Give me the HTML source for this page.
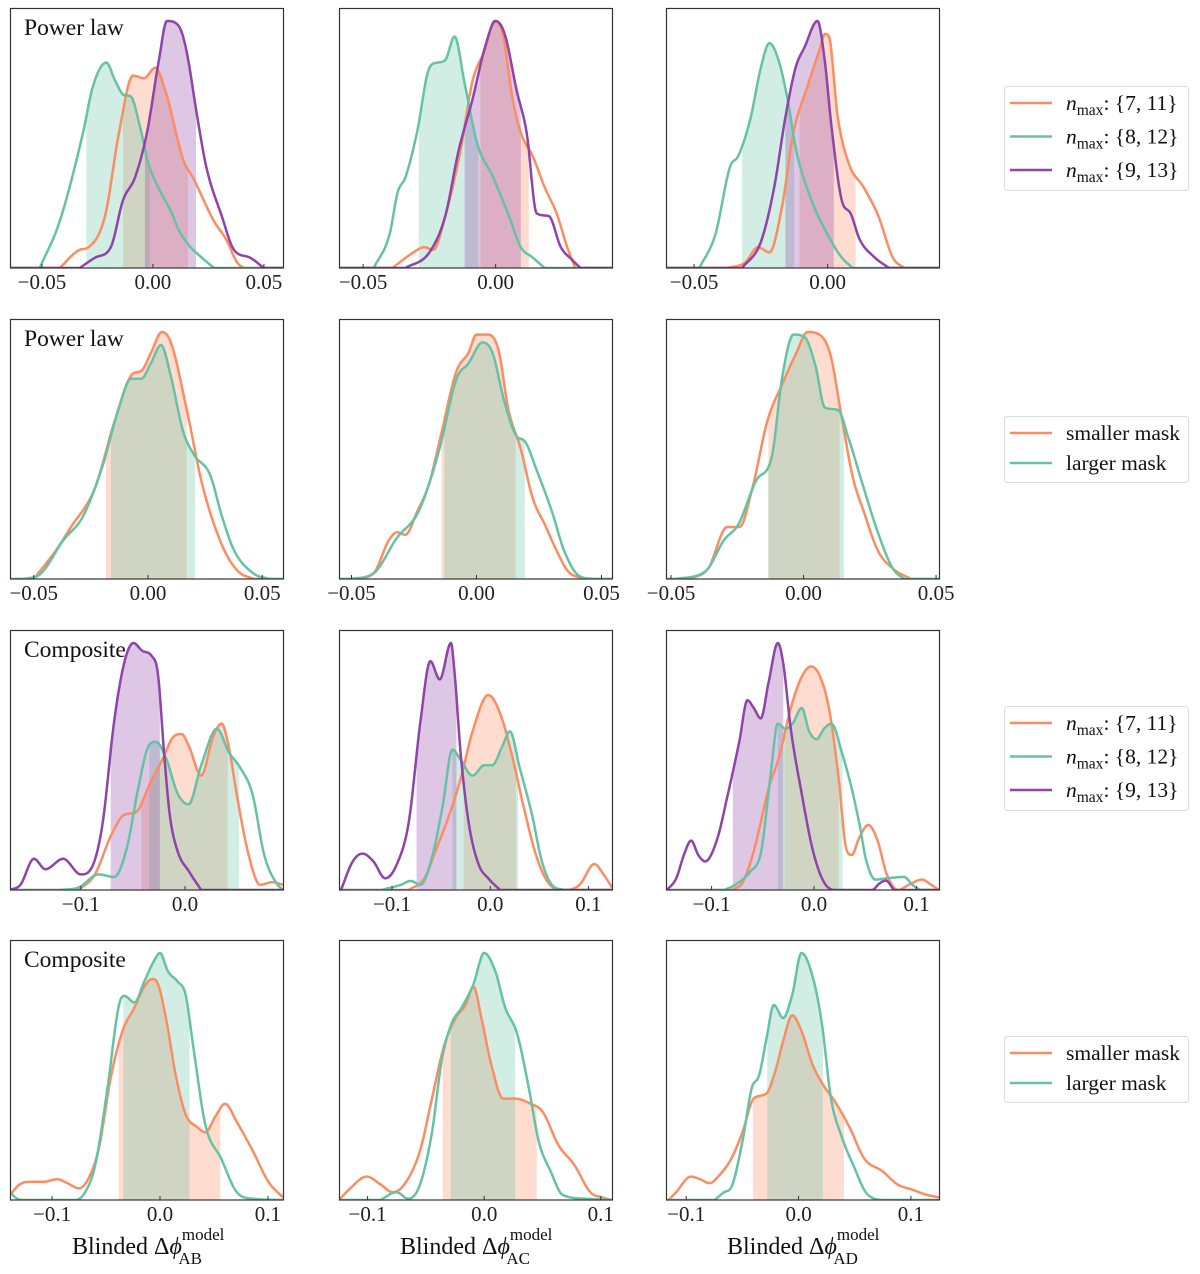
<!DOCTYPE html>
<html><head><meta charset="utf-8">
<style>
html,body{margin:0;padding:0;background:#fff;}
svg{display:block;font-family:"Liberation Serif","DejaVu Serif",serif;}
</style></head>
<body>
<svg id="fig" width="1200" height="1274" viewBox="0 0 1200 1274" xmlns="http://www.w3.org/2000/svg"></svg>
<script>
// ---------- data ----------
const tickSmall = [-0.05, 0.0, 0.05];
const tickSmallLabels = ["\u22120.05", "0.00", "0.05"];
const tickLarge = [-0.1, 0.0, 0.1];
const tickLargeLabels = ["\u22120.1", "0.0", "0.1"];

// Row 1 (Power law, n_max)
const p11Orange = [[-0.042,0],[-0.033,0.07],[-0.029,0.08],[-0.0216,0.20],[-0.0153,0.52],[-0.009,0.74],[-0.004,0.73],[0.001,0.77],[0.006,0.67],[0.0135,0.42],[0.0185,0.34],[0.0275,0.18],[0.033,0.11],[0.038,0.02],[0.041,0]];
const p11Green = [[-0.051,0],[-0.042,0.18],[-0.0315,0.52],[-0.027,0.70],[-0.021,0.79],[-0.017,0.72],[-0.013,0.665],[-0.010,0.66],[-0.006,0.55],[-0.002,0.40],[0.003,0.30],[0.008,0.22],[0.012,0.14],[0.017,0.08],[0.022,0.04],[0.0275,0]];
const p11Purple = [[-0.033,0],[-0.026,0.04],[-0.019,0.08],[-0.0135,0.26],[-0.008,0.35],[-0.0027,0.52],[0.0027,0.80],[0.0063,0.95],[0.0117,0.93],[0.015,0.84],[0.020,0.58],[0.024,0.39],[0.031,0.20],[0.0365,0.07],[0.0437,0.04],[0.05,0]];
const p11Bands = {orange:[-0.0135,0.0158], green:[-0.030,-0.0014], purple:[-0.0036,0.0194]};

const p12Orange = [[-0.039,0],[-0.031,0.06],[-0.027,0.08],[-0.0235,0.07],[-0.019,0.20],[-0.0133,0.45],[-0.0087,0.72],[-0.004,0.84],[-0.0004,0.95],[0.0027,0.90],[0.0064,0.65],[0.0095,0.52],[0.014,0.43],[0.0185,0.31],[0.023,0.21],[0.027,0.08],[0.030,0]];
const p12Green = [[-0.046,0],[-0.040,0.13],[-0.037,0.29],[-0.034,0.35],[-0.0297,0.52],[-0.025,0.77],[-0.022,0.79],[-0.019,0.80],[-0.0155,0.89],[-0.0117,0.71],[-0.007,0.48],[-0.001,0.35],[0.005,0.20],[0.0095,0.08],[0.014,0.04],[0.0185,0]];
const p12Purple = [[-0.034,0],[-0.025,0.06],[-0.019,0.20],[-0.014,0.45],[-0.0087,0.65],[-0.004,0.85],[0.0,0.95],[0.0034,0.90],[0.008,0.68],[0.0117,0.52],[0.0155,0.21],[0.020,0.20],[0.0246,0.08],[0.029,0.03],[0.032,0]];
const p12Bands = {orange:[-0.0057,0.0125], green:[-0.029,-0.0065], purple:[-0.0117,0.0095]};

const p13Orange = [[-0.0376,0],[-0.031,0.02],[-0.026,0.08],[-0.0218,0.06],[-0.017,0.24],[-0.0128,0.52],[-0.0075,0.70],[-0.003,0.84],[-0.001,0.90],[0.0005,0.89],[0.0038,0.58],[0.008,0.40],[0.0135,0.31],[0.019,0.20],[0.0244,0.04],[0.0286,0]];
const p13Green = [[-0.048,0],[-0.042,0.13],[-0.0365,0.39],[-0.0335,0.43],[-0.029,0.57],[-0.025,0.77],[-0.0218,0.865],[-0.0184,0.80],[-0.015,0.65],[-0.0117,0.45],[-0.006,0.26],[0.001,0.11],[0.0053,0.04],[0.0094,0]];
const p13Purple = [[-0.032,0],[-0.025,0.10],[-0.020,0.31],[-0.0158,0.58],[-0.012,0.77],[-0.0086,0.85],[-0.0038,0.95],[-0.0011,0.80],[0.0015,0.54],[0.0053,0.26],[0.0086,0.21],[0.012,0.11],[0.0177,0.04],[0.023,0]];
const p13Bands = {orange:[-0.0105,0.0105], green:[-0.032,-0.0125], purple:[-0.0158,0.0023]};

// Row 2 (Power law, masks)
const p21Orange = [[-0.050,0],[-0.0403,0.11],[-0.0337,0.20],[-0.0232,0.35],[-0.0145,0.61],[-0.0066,0.79],[-0.003,0.80],[0.0013,0.87],[0.0061,0.95],[0.010,0.91],[0.017,0.65],[0.0237,0.365],[0.0324,0.13],[0.0394,0.03],[0.0464,0]];
const p21Green = [[-0.054,0],[-0.047,0.02],[-0.037,0.15],[-0.0285,0.24],[-0.0197,0.44],[-0.0127,0.66],[-0.0074,0.77],[-0.003,0.77],[0.0013,0.83],[0.0057,0.90],[0.010,0.78],[0.0153,0.57],[0.020,0.48],[0.0272,0.40],[0.0324,0.24],[0.0377,0.11],[0.0464,0.02],[0.0534,0]];
const p21Bands = {orange:[-0.0184,0.0169], green:[-0.0162,0.0206]};

const p22Orange = [[-0.0494,0],[-0.0414,0.02],[-0.035,0.15],[-0.0317,0.18],[-0.0285,0.17],[-0.0237,0.26],[-0.019,0.365],[-0.0143,0.55],[-0.008,0.80],[-0.0032,0.87],[0.0,0.94],[0.0048,0.94],[0.0088,0.88],[0.0128,0.65],[0.0177,0.50],[0.0225,0.31],[0.0273,0.21],[0.032,0.11],[0.0366,0.03],[0.043,0]];
const p22Green = [[-0.051,0],[-0.0414,0.02],[-0.0317,0.16],[-0.0237,0.25],[-0.019,0.365],[-0.0143,0.52],[-0.008,0.77],[-0.0032,0.83],[0.0024,0.91],[0.0064,0.87],[0.0112,0.68],[0.016,0.55],[0.0193,0.53],[0.024,0.42],[0.0305,0.25],[0.035,0.11],[0.0414,0.01],[0.048,0]];
const p22Bands = {orange:[-0.014,0.0157], green:[-0.0129,0.0193]};

const p23Orange = [[-0.0428,0],[-0.036,0.04],[-0.0288,0.20],[-0.0242,0.20],[-0.0193,0.35],[-0.0136,0.61],[-0.008,0.75],[-0.0027,0.87],[0.0015,0.95],[0.006,0.94],[0.0102,0.86],[0.0144,0.62],[0.0186,0.39],[0.0227,0.26],[0.028,0.11],[0.0337,0.04],[0.0405,0]];
const p23Green = [[-0.0485,0],[-0.037,0.03],[-0.030,0.15],[-0.0246,0.21],[-0.0178,0.38],[-0.012,0.47],[-0.008,0.78],[-0.0038,0.94],[0.0004,0.93],[0.0045,0.82],[0.008,0.66],[0.013,0.65],[0.017,0.54],[0.0227,0.35],[0.028,0.18],[0.0337,0.04],[0.0379,0]];
const p23Bands = {orange:[-0.0133,0.0136], green:[-0.0133,0.0152]};

// Row 3 (Composite, n_max)
const p31Orange = [[-0.102,0],[-0.0865,0.06],[-0.071,0.21],[-0.058,0.29],[-0.047,0.30],[-0.0336,0.41],[-0.022,0.50],[-0.011,0.59],[-0.0034,0.60],[0.004,0.55],[0.0155,0.44],[0.027,0.59],[0.035,0.64],[0.042,0.55],[0.0495,0.37],[0.061,0.135],[0.072,0.02],[0.0835,0.03],[0.094,0.02]];
const p31Green = [[-0.12,0],[-0.102,0.01],[-0.083,0.06],[-0.068,0.05],[-0.056,0.16],[-0.045,0.39],[-0.0355,0.55],[-0.028,0.57],[-0.0185,0.51],[-0.007,0.37],[0.0034,0.33],[0.0155,0.48],[0.0306,0.62],[0.042,0.53],[0.053,0.47],[0.0646,0.37],[0.076,0.135],[0.087,0.03],[0.094,0]];
const p31Purple = [[-0.168,0],[-0.158,0.02],[-0.145,0.12],[-0.134,0.08],[-0.117,0.12],[-0.10,0.06],[-0.088,0.10],[-0.079,0.26],[-0.068,0.65],[-0.058,0.88],[-0.0495,0.95],[-0.041,0.92],[-0.032,0.90],[-0.026,0.83],[-0.020,0.52],[-0.0147,0.29],[-0.0072,0.15],[0.004,0.07],[0.0155,0]];
const p31Bands = {orange:[-0.042,0.041], green:[-0.0344,0.052], purple:[-0.0714,-0.0242]};

const p32Orange = [[-0.083,0],[-0.067,0.045],[-0.0547,0.16],[-0.0425,0.28],[-0.030,0.43],[-0.018,0.61],[-0.002,0.75],[0.010,0.68],[0.022,0.52],[0.034,0.32],[0.0466,0.135],[0.0587,0.03],[0.075,0],[0.091,0.02],[0.106,0.10],[0.1154,0.06],[0.1255,0]];
const p32Green = [[-0.111,0],[-0.091,0.02],[-0.081,0.035],[-0.071,0.02],[-0.0587,0.135],[-0.0486,0.32],[-0.0385,0.54],[-0.030,0.50],[-0.018,0.44],[-0.006,0.48],[0.002,0.48],[0.012,0.55],[0.020,0.61],[0.030,0.47],[0.0425,0.29],[0.0526,0.11],[0.0628,0.02],[0.075,0]];
const p32Purple = [[-0.152,0],[-0.14,0.11],[-0.13,0.14],[-0.119,0.11],[-0.107,0.045],[-0.095,0.10],[-0.083,0.26],[-0.071,0.65],[-0.061,0.88],[-0.0514,0.81],[-0.040,0.95],[-0.0364,0.84],[-0.030,0.52],[-0.022,0.26],[-0.012,0.10],[-0.002,0.045],[0.010,0]];
const p32Bands = {orange:[-0.027,0.0263], green:[-0.0385,0.0283], purple:[-0.075,-0.0344]};

const p33Orange = [[-0.080,0],[-0.0696,0.03],[-0.0588,0.15],[-0.0443,0.39],[-0.0335,0.52],[-0.0227,0.70],[-0.012,0.82],[-0.003,0.86],[0.006,0.82],[0.015,0.69],[0.024,0.43],[0.0314,0.16],[0.0368,0.135],[0.044,0.20],[0.053,0.25],[0.062,0.19],[0.071,0.06],[0.082,0],[0.0926,0.02],[0.1053,0.04],[0.1143,0.02],[0.122,0]];
const p33Green = [[-0.0876,0],[-0.077,0.02],[-0.0624,0.07],[-0.0515,0.15],[-0.0425,0.44],[-0.0353,0.64],[-0.028,0.62],[-0.021,0.64],[-0.012,0.70],[-0.0047,0.61],[0.0025,0.58],[0.0097,0.62],[0.017,0.64],[0.0278,0.52],[0.0368,0.39],[0.044,0.26],[0.0512,0.11],[0.060,0.04],[0.071,0.045],[0.088,0.05],[0.096,0.02],[0.1035,0]];
const p33Purple = [[-0.1435,0],[-0.1345,0.045],[-0.127,0.135],[-0.12,0.19],[-0.113,0.135],[-0.1063,0.11],[-0.095,0.19],[-0.084,0.37],[-0.073,0.57],[-0.065,0.73],[-0.0588,0.70],[-0.052,0.66],[-0.0443,0.80],[-0.0353,0.95],[-0.030,0.87],[-0.0227,0.62],[-0.012,0.37],[-0.001,0.15],[0.0097,0.03],[0.0205,0],[0.0566,0],[0.0638,0.025],[0.070,0.036],[0.078,0]];
const p33Bands = {orange:[-0.0288,0.024], green:[-0.0353,0.0278], purple:[-0.0793,-0.030]};

// Row 4 (Composite, masks)
const p41Orange = [[-0.139,0.02],[-0.130,0.06],[-0.1206,0.07],[-0.108,0.07],[-0.095,0.08],[-0.086,0.065],[-0.075,0.045],[-0.066,0.085],[-0.0566,0.20],[-0.0457,0.47],[-0.0347,0.65],[-0.0237,0.74],[-0.0146,0.82],[-0.0073,0.85],[-0.0018,0.83],[0.0055,0.70],[0.0146,0.48],[0.0237,0.33],[0.0347,0.28],[0.042,0.26],[0.0511,0.32],[0.0603,0.37],[0.0712,0.30],[0.0859,0.19],[0.1005,0.07],[0.114,0.01]];
const p41Green = [[-0.139,0.03],[-0.1315,0.003],[-0.126,0],[-0.0785,0],[-0.0694,0.03],[-0.060,0.135],[-0.049,0.42],[-0.038,0.75],[-0.033,0.785],[-0.0237,0.76],[-0.0146,0.84],[-0.0055,0.92],[0.0,0.95],[0.0073,0.88],[0.0164,0.84],[0.0237,0.79],[0.031,0.585],[0.042,0.29],[0.0566,0.16],[0.0712,0.03],[0.0859,0.005],[0.114,0]];
const p41Bands = {orange:[-0.0384,0.0559], green:[-0.034,0.0274]};

const p42Orange = [[-0.1245,0],[-0.116,0.04],[-0.1007,0.09],[-0.0889,0.06],[-0.0787,0.03],[-0.0685,0.06],[-0.055,0.19],[-0.0448,0.39],[-0.0346,0.59],[-0.0244,0.70],[-0.016,0.75],[-0.0092,0.82],[-0.0024,0.70],[0.0061,0.52],[0.0163,0.39],[0.0265,0.39],[0.040,0.37],[0.050,0.34],[0.0638,0.21],[0.0773,0.135],[0.091,0.03],[0.101,0.01],[0.1096,0]];
const p42Green = [[-0.0889,0],[-0.0753,0.03],[-0.065,0.005],[-0.055,0.06],[-0.0448,0.26],[-0.0363,0.54],[-0.0278,0.68],[-0.0193,0.74],[-0.0092,0.83],[0.0,0.95],[0.0095,0.88],[0.018,0.74],[0.0282,0.64],[0.0383,0.43],[0.0468,0.225],[0.057,0.11],[0.0672,0.02],[0.0875,0.005],[0.1096,0]];
const p42Bands = {orange:[-0.0356,0.0451], green:[-0.0288,0.0265]};

const p43Orange = [[-0.1156,0],[-0.109,0.03],[-0.096,0.09],[-0.0877,0.08],[-0.0794,0.065],[-0.0696,0.10],[-0.0598,0.16],[-0.05,0.26],[-0.04,0.39],[-0.0286,0.41],[-0.0204,0.50],[-0.0138,0.61],[-0.0056,0.71],[0.0026,0.65],[0.0125,0.52],[0.0223,0.44],[0.0322,0.38],[0.0453,0.28],[0.0584,0.16],[0.0749,0.11],[0.088,0.06],[0.101,0.04],[0.114,0.02],[0.125,0.01]];
const p43Green = [[-0.0745,0],[-0.0663,0.03],[-0.0598,0.05],[-0.05,0.225],[-0.0417,0.43],[-0.0351,0.48],[-0.0286,0.62],[-0.022,0.75],[-0.0138,0.70],[-0.0056,0.79],[0.0026,0.95],[0.0125,0.86],[0.0207,0.68],[0.0289,0.39],[0.0387,0.24],[0.0486,0.135],[0.0617,0.02],[0.078,0],[0.125,0]];
const p43Bands = {orange:[-0.0407,0.0404], green:[-0.0279,0.0217]};

// ---------- layout ----------
const colLeft = [10, 339, 666], plotW = 273;
const rowTop = [8, 319, 630, 940], plotH = 260;
const COLORS = {orange:"#fc8d62", green:"#66c2a5", purple:"#8e44a8"};
const NS = "http://www.w3.org/2000/svg";
const svg = document.getElementById('fig');

function mk(tag, attrs, parent){
  const e = document.createElementNS(NS, tag);
  for (const k in attrs) e.setAttribute(k, attrs[k]);
  (parent||svg).appendChild(e);
  return e;
}

function monotone(pts){
  const n = pts.length, xs = pts.map(p=>p[0]), ys = pts.map(p=>p[1]);
  const d = [], m = new Array(n);
  for (let i=0;i<n-1;i++) d.push((ys[i+1]-ys[i])/(xs[i+1]-xs[i]));
  m[0]=d[0]; m[n-1]=d[n-2];
  for (let i=1;i<n-1;i++){ m[i] = (d[i-1]*d[i] <= 0) ? 0 : (d[i-1]+d[i])/2; }
  for (let i=0;i<n-1;i++){
    if (d[i]===0){m[i]=0;m[i+1]=0;continue;}
    const a=m[i]/d[i], b=m[i+1]/d[i], s=a*a+b*b;
    if (s>9){const t=3/Math.sqrt(s); m[i]=t*a*d[i]; m[i+1]=t*b*d[i];}
  }
  return function(x){
    if (x<=xs[0]) return x<xs[0]?0:ys[0];
    if (x>=xs[n-1]) return x>xs[n-1]?0:ys[n-1];
    let i=0; while (i<n-2 && x>xs[i+1]) i++;
    const h=xs[i+1]-xs[i], t=(x-xs[i])/h, t2=t*t, t3=t2*t;
    return (2*t3-3*t2+1)*ys[i] + (t3-2*t2+t)*h*m[i] + (-2*t3+3*t2)*ys[i+1] + (t3-t2)*h*m[i+1];
  };
}

const panels = [
  {r:0,c:0,dom:[-0.0644,0.0586],ticks:tickSmall,labels:tickSmallLabels,series:{orange:p11Orange,green:p11Green,purple:p11Purple},bands:p11Bands,title:"Power law"},
  {r:0,c:1,dom:[-0.0591,0.0439],ticks:tickSmall,labels:tickSmallLabels,series:{orange:p12Orange,green:p12Green,purple:p12Purple},bands:p12Bands},
  {r:0,c:2,dom:[-0.0605,0.0417],ticks:tickSmall,labels:tickSmallLabels,series:{orange:p13Orange,green:p13Green,purple:p13Purple},bands:p13Bands},
  {r:1,c:0,dom:[-0.0604,0.0591],ticks:tickSmall,labels:tickSmallLabels,series:{orange:p21Orange,green:p21Green},bands:p21Bands,title:"Power law"},
  {r:1,c:1,dom:[-0.055,0.0542],ticks:tickSmall,labels:tickSmallLabels,series:{orange:p22Orange,green:p22Green},bands:p22Bands},
  {r:1,c:2,dom:[-0.0519,0.0511],ticks:tickSmall,labels:tickSmallLabels,series:{orange:p23Orange,green:p23Green},bands:p23Bands},
  {r:2,c:0,dom:[-0.168,0.094],ticks:tickLarge,labels:tickLargeLabels,series:{orange:p31Orange,green:p31Green,purple:p31Purple},bands:p31Bands,title:"Composite"},
  {r:2,c:1,dom:[-0.154,0.124],ticks:tickLarge,labels:tickLargeLabels,series:{orange:p32Orange,green:p32Green,purple:p32Purple},bands:p32Bands},
  {r:2,c:2,dom:[-0.1445,0.122],ticks:tickLarge,labels:tickLargeLabels,series:{orange:p33Orange,green:p33Green,purple:p33Purple},bands:p33Bands},
  {r:3,c:0,dom:[-0.139,0.114],ticks:tickLarge,labels:tickLargeLabels,series:{orange:p41Orange,green:p41Green},bands:p41Bands,title:"Composite"},
  {r:3,c:1,dom:[-0.1245,0.1096],ticks:tickLarge,labels:tickLargeLabels,series:{orange:p42Orange,green:p42Green},bands:p42Bands},
  {r:3,c:2,dom:[-0.118,0.125],ticks:tickLarge,labels:tickLargeLabels,series:{orange:p43Orange,green:p43Green},bands:p43Bands},
];

panels.forEach((p, idx) => {
  const L = colLeft[p.c], T = rowTop[p.r], B = T + plotH;
  const xs = v => L + (v - p.dom[0]) / (p.dom[1] - p.dom[0]) * plotW;
  const ys = v => B - v * plotH;
  const g = mk('g', {});
  
  
  const clipId = 'clip' + idx;
  const cp = mk('clipPath', {id: clipId}, g);
  mk('rect', {x:L, y:T, width:plotW, height:plotH}, cp);
  const inner = mk('g', {'clip-path': 'url(#' + clipId + ')'}, g);
  const fns = {};
  for (const k in p.series) fns[k] = monotone(p.series[k]);
  for (const k in p.series) {
    const band = p.bands[k]; if (!band) continue;
    const f = fns[k], N = 120;
    let d = 'M' + xs(band[0]).toFixed(2) + ',' + B;
    for (let i=0;i<=N;i++){ const x = band[0] + (band[1]-band[0])*i/N; d += 'L' + xs(x).toFixed(2) + ',' + ys(Math.max(0,f(x))).toFixed(2); }
    d += 'L' + xs(band[1]).toFixed(2) + ',' + B + 'Z';
    const e = mk('path', {d:d, fill:COLORS[k], 'fill-opacity':0.3, stroke:'none'}, inner);
    
    
  }
  for (const k in p.series) {
    const f = fns[k], N = 400;
    let d = '';
    for (let i=0;i<=N;i++){ const x = p.dom[0] + (p.dom[1]-p.dom[0])*i/N; d += (i?'L':'M') + xs(x).toFixed(2) + ',' + ys(Math.max(0,f(x))).toFixed(2); }
    const e = mk('path', {d:d, fill:'none', stroke:COLORS[k], 'stroke-width':2.5, 'stroke-linejoin':'round'}, inner);
    
    
  }
  const fr = mk('rect', {x:L+0.5, y:T+0.5, width:plotW, height:plotH-0.5, fill:'none', stroke:'#333', 'stroke-width':1.2}, g);
  
  
  p.ticks.forEach((t, i) => {
    if (t < p.dom[0] || t > p.dom[1]) return;
    const x = xs(t);
    mk('line', {x1:x, y1:B, x2:x, y2:B-4, stroke:'#333', 'stroke-width':1}, g);
    const tx = mk('text', {x:x, y:B+21, 'text-anchor':'middle', 'font-size':21, fill:'#222'}, g);
    tx.textContent = p.labels[i];
    
    
  });
  if (p.title) {
    const tt = mk('text', {x:L+14, y:T+27, 'font-size':23.5, fill:'#111'}, g);
    tt.textContent = p.title;
    
    
  }
});

const subs = ["AB","AC","AD"];
const centers = [147, 475, 802];
subs.forEach((s, i) => {
  const t = mk('text', {x:centers[i]-75, y:1254, 'font-size':24, fill:'#111'});
  
  
  const a = mk('tspan', {}, t); a.textContent = 'Blinded \u0394';
  const b = mk('tspan', {'font-style':'italic'}, t); b.textContent = '\u03d5';
  const c = mk('tspan', {dy:-14, 'font-size':17}, t); c.textContent = 'model';
  const d = mk('tspan', {dx:-46, dy:24, 'font-size':17}, t); d.textContent = s;
});

function legend(top, entries, nmax){
  const h = entries.length === 3 ? 104 : 66;
  const g = mk('g', {});
  
  
  mk('rect', {x:1004.5, y:top+0.5, width:184, height:h, rx:3, fill:'#fff', stroke:'#dcdcdc', 'stroke-width':1}, g);
  entries.forEach((en, i) => {
    const y = top + 17 + i * (entries.length === 3 ? 33.5 : 30);
    const eg = mk('g', {}, g);
    
    
    mk('line', {x1:1010, y1:y, x2:1052, y2:y, stroke:COLORS[en[0]], 'stroke-width':2.5}, eg);
    const t = mk('text', {x:1066, y:y+7, 'font-size':21.5, fill:'#111'}, eg);
    if (nmax) {
      const a = mk('tspan', {'font-style':'italic'}, t); a.textContent = 'n';
      const b = mk('tspan', {dy:5, 'font-size':15.5}, t); b.textContent = 'max';
      const c = mk('tspan', {dy:-5}, t); c.textContent = ': ' + en[1];
    } else {
      t.textContent = en[1];
    }
  });
}
legend(86, [["orange","{7, 11}"],["green","{8, 12}"],["purple","{9, 13}"]], true);
legend(416, [["orange","smaller mask"],["green","larger mask"]], false);
legend(706, [["orange","{7, 11}"],["green","{8, 12}"],["purple","{9, 13}"]], true);
legend(1036, [["orange","smaller mask"],["green","larger mask"]], false);
</script>
</body></html>
